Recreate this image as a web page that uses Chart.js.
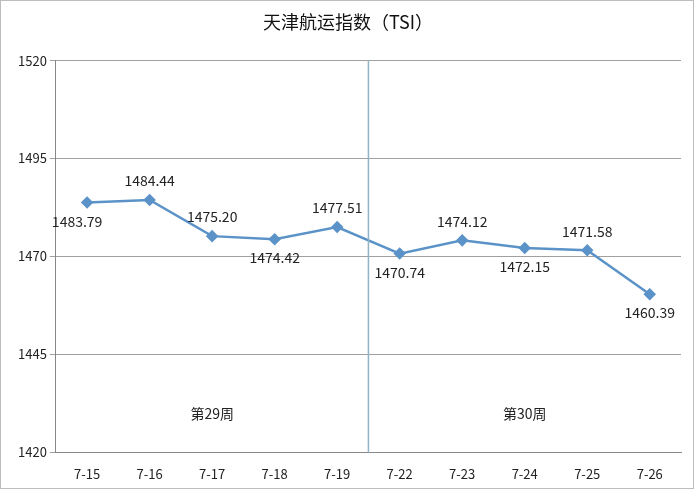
<!DOCTYPE html>
<html><head><meta charset="utf-8">
<script src="https://cdn.jsdelivr.net/npm/chart.js@4"></script>
<style>html,body{margin:0;padding:0;background:#fff}#w{width:692px;height:487px;border:1px solid #bdbdbd;position:relative}</style>
</head><body><div id="w"><canvas id="c"></canvas></div>
<script>
const categories=['7-15','7-16','7-17','7-18','7-19','7-22','7-23','7-24','7-25','7-26'];
const values=[1483.79,1484.44,1475.20,1474.42,1477.51,1470.74,1474.12,1472.15,1471.58,1460.39];
const labelAbove=[false,true,true,false,true,false,true,false,true,false];
const weekLabels=['第29周','第30周'];
const font='"Noto Sans CJK SC","Liberation Sans",sans-serif';
const deco={id:'deco',afterDatasetsDraw(ch){
 const c=ch.ctx,x=ch.scales.x,y=ch.scales.y,a=ch.chartArea;
 const xm=(x.getPixelForValue(4)+x.getPixelForValue(5))/2;
 c.save();c.strokeStyle='#8fb4c8';c.lineWidth=1.5;c.beginPath();c.moveTo(xm,a.top);c.lineTo(xm,a.bottom);c.stroke();
 c.fillStyle='#222';c.font='14px '+font;c.textAlign='center';c.textBaseline='middle';
 values.forEach((v,i)=>{const px=x.getPixelForValue(i),py=y.getPixelForValue(v);
  c.fillText(v.toFixed(2),px+(i==0?-10:0),labelAbove[i]?py-19:py+19);});
 c.fillText(weekLabels[0],(x.getPixelForValue(0)+x.getPixelForValue(4))/2,y.getPixelForValue(1430));
 c.fillText(weekLabels[1],(x.getPixelForValue(5)+x.getPixelForValue(9))/2,y.getPixelForValue(1430));
 c.restore();}};
new Chart(document.getElementById('c'),{type:'line',
 data:{labels:categories,datasets:[{data:values,borderColor:'#5b93c8',backgroundColor:'#5b93c8',borderWidth:2.5,pointStyle:'rectRot',pointRadius:4.5,tension:0}]},
 options:{responsive:true,maintainAspectRatio:false,animation:false,
  layout:{padding:{left:14,right:12,top:4,bottom:0}},
  plugins:{legend:{display:false},tooltip:{enabled:false},
   title:{display:true,text:'天津航运指数（TSI）',color:'#111',font:{family:font,size:18,weight:'normal'},padding:{top:6,bottom:28}}},
  scales:{x:{offset:true,grid:{display:false},border:{color:'#888'},ticks:{color:'#222',font:{family:font,size:13},padding:6}},
   y:{min:1420,max:1520,ticks:{stepSize:25,color:'#222',font:{family:font,size:13},callback:v=>String(v)},grid:{color:'#a0a0a0',tickLength:6},border:{color:'#888'}}}},
 plugins:[deco]});
</script></body></html>
